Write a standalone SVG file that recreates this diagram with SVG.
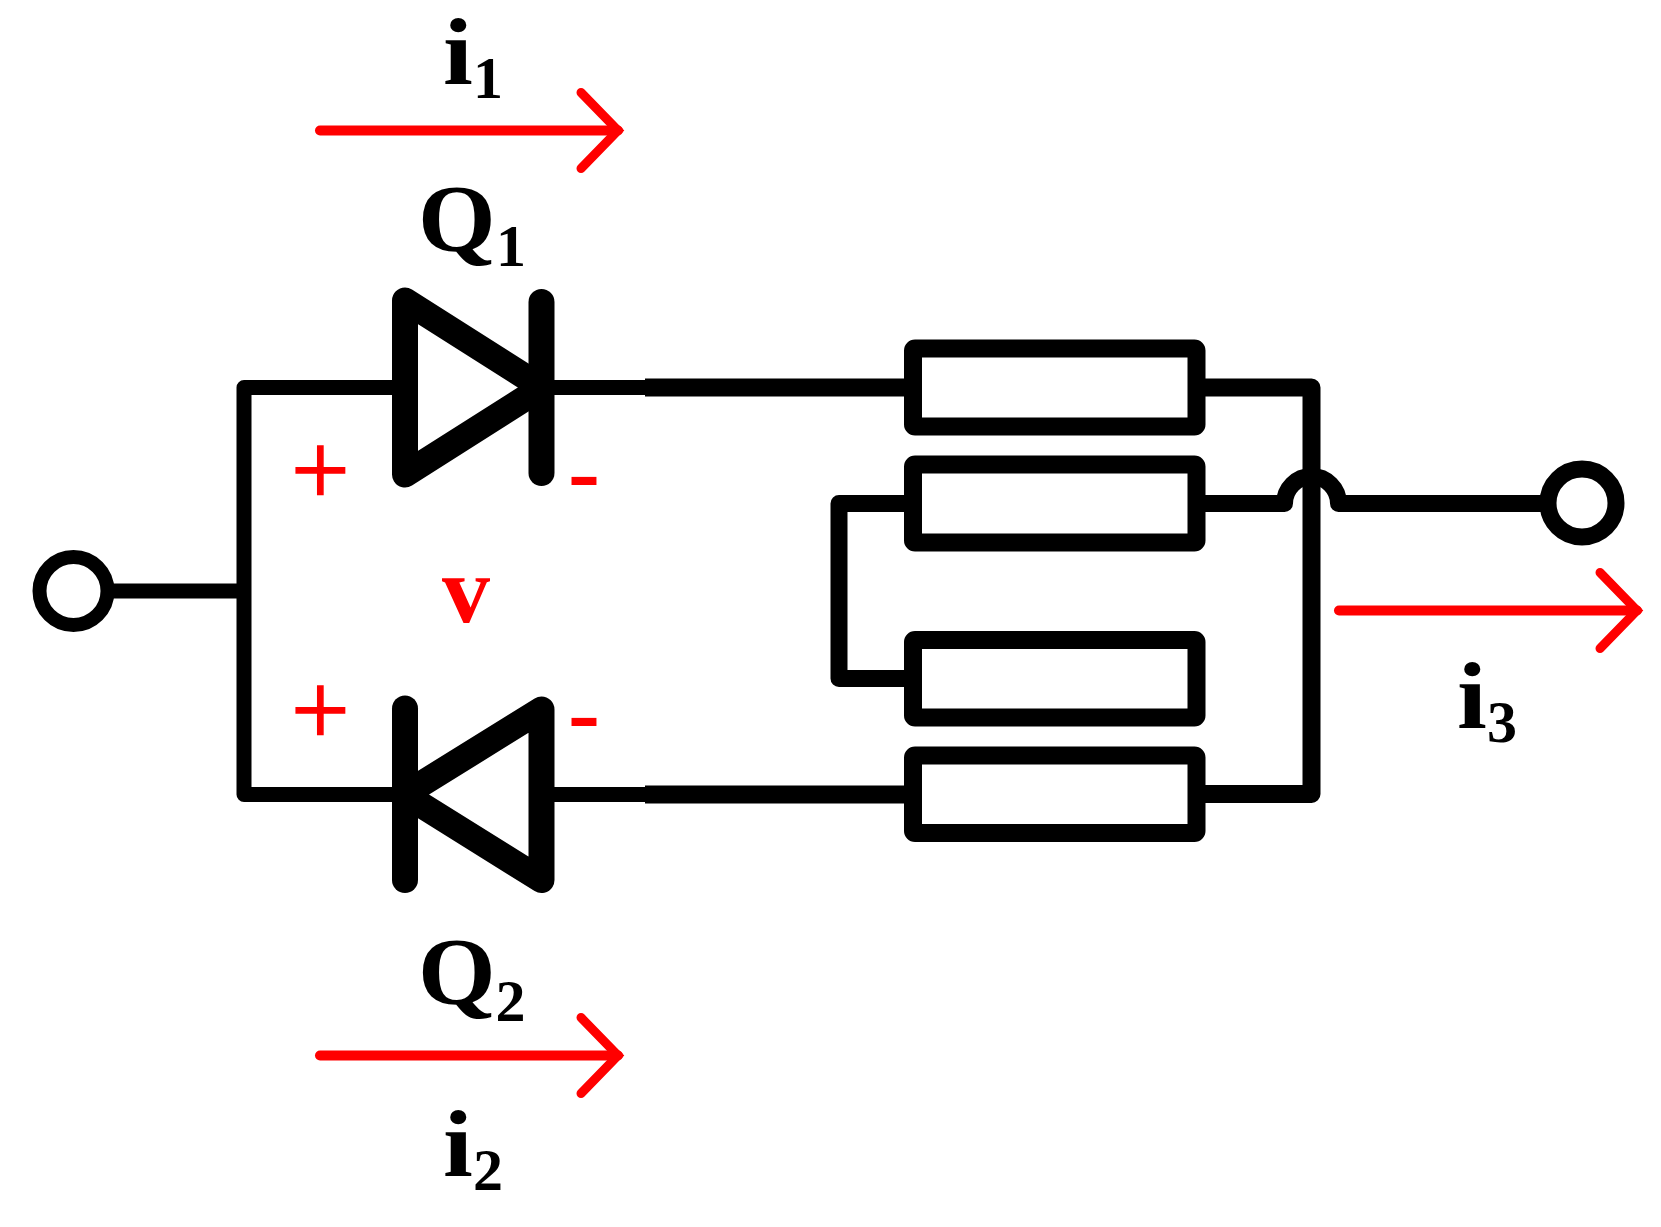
<svg xmlns="http://www.w3.org/2000/svg" width="1661" height="1227" viewBox="0 0 1661 1227">
<style>
text{font-family:"Liberation Serif","Times New Roman",serif;fill:#000}
.b{font-weight:bold;font-size:96px}
.q{font-size:95px;font-weight:bold}
.s{font-size:60px;font-weight:bold}
.red{fill:#f00}
.pm{font-size:104px;stroke:#f00;stroke-width:1.5px}
.mn{font-size:96px;font-weight:bold}
.wire{fill:none;stroke:#000;stroke-width:15;stroke-linejoin:round;stroke-linecap:round}
.thick{stroke-width:18}
.butt{stroke-linecap:butt}
.res{fill:#fff;stroke:#000;stroke-width:18;stroke-linejoin:round}
.term{fill:#fff;stroke:#000}
.dio{fill:none;stroke:#000;stroke-width:26;stroke-linejoin:round;stroke-linecap:round}
.cur{fill:none;stroke:#f00;stroke-width:10;stroke-linecap:round;marker-end:url(#open)}
</style>
<defs>
<marker id="open" markerUnits="userSpaceOnUse" markerWidth="60" markerHeight="100" viewBox="-50 -50 60 100" refX="0" refY="0" orient="auto">
<path d="M-37,-38 L0,0 L-37,38" fill="none" stroke="#f00" stroke-width="9" stroke-linecap="round" stroke-linejoin="miter"/>
</marker>
</defs>
<rect width="1661" height="1227" fill="#fff"/>
<g id="connectors">
<path class="wire" d="M404,387.500 H244 V794.500 H404"/>
<path class="wire butt" d="M106,591 H244"/>
<path class="wire butt" d="M541,387.500 H650"/>
<path class="wire thick butt" d="M645,387.500 H915"/>
<path class="wire butt" d="M541,794.500 H650"/>
<path class="wire thick butt" d="M645,794.500 H915"/>
<path class="wire" d="M1196,387.500 H1311.500 V794 H1196" style="stroke-width:18"/>
<path class="wire" d="M915,503.500 H839 V678.500 H915" style="stroke-width:17"/>
<path class="wire" d="M1196,503.500 H1284.500 A27,27 0 0 1 1338.500,503.500 H1545" style="stroke-width:17"/>
<path class="cur" d="M320,130.500 H618"/>
<path class="cur" d="M320,1055.500 H618"/>
<path class="cur" d="M1339,610.500 H1637"/>
</g>
<g id="terminal-left"><circle class="term" cx="73.500" cy="591" r="34" stroke-width="14"/></g>
<g id="terminal-right"><circle class="term" cx="1582" cy="503" r="34" stroke-width="17"/></g>
<g id="diode-q1">
<path class="dio" d="M405,300.500 L542,387.500 L405,474.500 Z"/>
<path class="dio" d="M541.500,302 V473"/>
</g>
<g id="diode-q2">
<path class="dio" d="M541.500,709.500 L404.500,794.500 L541.500,880 Z"/>
<path class="dio" d="M405,708.500 V880"/>
</g>
<g id="resistor-1"><rect class="res" x="913" y="348.500" width="283.500" height="78" rx="2"/></g>
<g id="resistor-2"><rect class="res" x="913" y="464.500" width="283.500" height="78" rx="2"/></g>
<g id="resistor-3"><rect class="res" x="913" y="640" width="283.500" height="77.500" rx="2"/></g>
<g id="resistor-4"><rect class="res" x="913" y="755.500" width="283.500" height="77.500" rx="2"/></g>
<g id="labels">
<text class="b" transform="translate(443,84) scale(1.12,1)">i</text><text class="s" x="473" y="98">1</text>
<text class="q" transform="translate(418,251) scale(1.05,1)">Q</text><text class="s" x="496" y="266">1</text>
<text class="q" transform="translate(418,1004) scale(1.05,1)">Q</text><text class="s" x="495.500" y="1021">2</text>
<text class="b" transform="translate(443,1176) scale(1.12,1)">i</text><text class="s" x="473" y="1190">2</text>
<text class="b" transform="translate(1457,727.500) scale(1.12,1)">i</text><text class="s" x="1487" y="742">3</text>
<text class="b red" x="442" y="622">v</text>
<text class="pm red" x="291" y="505">+</text>
<text class="pm red" x="291" y="745">+</text>
<text class="mn red" x="568" y="503">-</text>
<text class="mn red" x="568" y="743.500">-</text>
</g>
</svg>
